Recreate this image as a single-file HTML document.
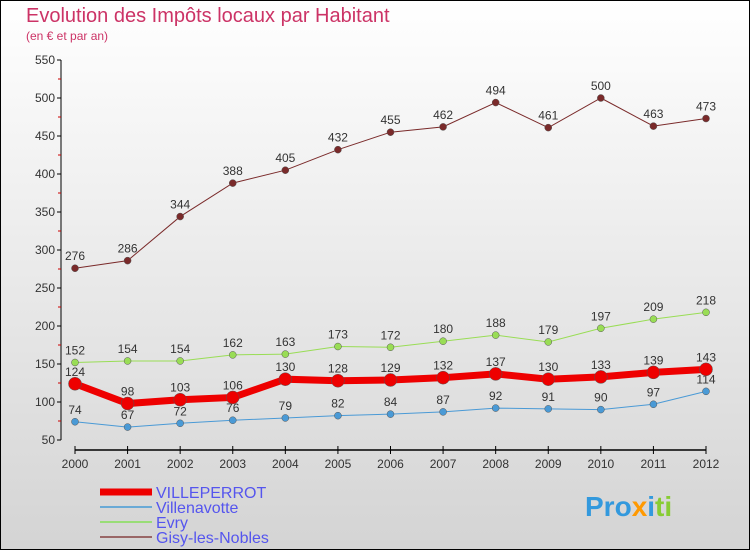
<!DOCTYPE html>
<html><head><meta charset="utf-8"><style>
body{margin:0}
#c{width:750px;height:550px;position:relative;box-sizing:border-box;border:1px solid #000;background:linear-gradient(#ffffff,#d4d4d4);font-family:"Liberation Sans",sans-serif;overflow:hidden}
</style></head><body>
<div id="c">
<svg width="750" height="550" style="position:absolute;left:-1px;top:-1px" id="svg">
<text x="26" y="22" font-size="20" fill="#cc3366">Evolution des Impôts locaux par Habitant</text>
<text x="26" y="40" font-size="12" fill="#cc3366">(en € et par an)</text>
<g id="axes"></g><g id="series"></g>
<g>
<line x1="100" y1="492" x2="152" y2="492" stroke="#ee0000" stroke-width="7"/>
<text x="156" y="498" font-size="16" fill="#5555ee">VILLEPERROT</text>
<line x1="100" y1="507" x2="152" y2="507" stroke="#6aaad6" stroke-width="2"/>
<text x="156" y="513" font-size="16" fill="#5555ee">Villenavotte</text>
<line x1="100" y1="522" x2="152" y2="522" stroke="#99dd77" stroke-width="2"/>
<text x="156" y="528" font-size="16" fill="#5555ee">Evry</text>
<line x1="100" y1="537" x2="152" y2="537" stroke="#996666" stroke-width="2"/>
<text x="156" y="543" font-size="16" fill="#5555ee">Gisy-les-Nobles</text>
</g>
<text x="585" y="516" font-size="28" font-weight="bold"><tspan fill="#3399dd">Pro</tspan><tspan fill="#ff9900">x</tspan><tspan fill="#3399dd">i</tspan><tspan fill="#88cc33">ti</tspan></text>
</svg>
</div>
<script>
const years=[2000,2001,2002,2003,2004,2005,2006,2007,2008,2009,2010,2011,2012];
const yTicks=[50,100,150,200,250,300,350,400,450,500,550];
const villeperrot=[124,98,103,106,130,128,129,132,137,130,133,139,143];
const villenavotte=[74,67,72,76,79,82,84,87,92,91,90,97,114];
const evry=[152,154,154,162,163,173,172,180,188,179,197,209,218];
const gisy=[276,286,344,388,405,432,455,462,494,461,500,463,473];
const NS="http://www.w3.org/2000/svg";
const xs=i=>75+i*(706-75)/(years.length-1);
const ys=v=>440-(v-50)*0.76;
function mk(t,a,p){const e=document.createElementNS(NS,t);for(const k in a)e.setAttribute(k,a[k]);p.appendChild(e);return e;}
const ax=document.getElementById('axes');
const yl=mk('line',{x1:61,y1:60,x2:61,y2:440,stroke:'#000'},ax);


yTicks.forEach(v=>{
 mk('line',{x1:57,y1:ys(v),x2:61,y2:ys(v),stroke:'#000'},ax);
 if(v<550)mk('line',{x1:58,y1:ys(v+25),x2:61,y2:ys(v+25),stroke:'#cc0000'},ax);
 const t=mk('text',{x:55,y:ys(v)+4,'font-size':12,'text-anchor':'end',fill:'#333'},ax);t.textContent=v;
 
 
});
const xl=mk('line',{x1:75,y1:450,x2:706,y2:450,stroke:'#000','stroke-width':1.5},ax);


years.forEach((y,i)=>{
 mk('line',{x1:xs(i),y1:446,x2:xs(i),y2:454,stroke:'#000'},ax);
 const t=mk('text',{x:xs(i),y:468,'font-size':12,'text-anchor':'middle',fill:'#333'},ax);t.textContent=y;
 
 
});
const sg=document.getElementById('series');
function draw(data,color,w,r,name){
 const g=mk('g',{},sg);
 
 
 const pl=mk('polyline',{points:data.map((v,i)=>xs(i)+','+ys(v)).join(' '),fill:'none',stroke:color,'stroke-width':w},g);
 
 
 data.forEach((v,i)=>{
  const c=mk('circle',{cx:xs(i),cy:ys(v),r:r,fill:color,stroke:'#555','stroke-width':0.5},g);
  
  
  const t=mk('text',{x:xs(i),y:ys(v)-8,'font-size':12,'text-anchor':'middle',fill:'#333'},g);t.textContent=v;
  
  
 });
}
draw(gisy,'#7a2a2a',1,3.5,'gisy-les-nobles');
draw(evry,'#99dd55',1,3.5,'evry');
draw(villenavotte,'#4a9ad6',1,3.5,'villenavotte');
draw(villeperrot,'#ee0000',7,6.5,'villeperrot');
</script>
</body></html>
